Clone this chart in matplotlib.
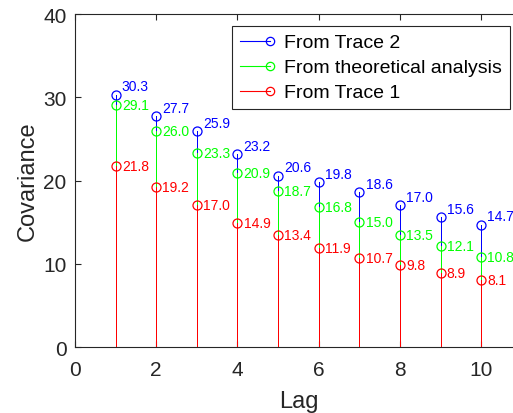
import matplotlib
matplotlib.use("Agg")
import matplotlib.pyplot as plt
from matplotlib.lines import Line2D
from matplotlib.legend_handler import HandlerBase

plt.rcParams['font.family'] = ['Liberation Sans', 'DejaVu Sans']

lags = [1, 2, 3, 4, 5, 6, 7, 8, 9, 10]
trace2 = [30.3, 27.7, 25.9, 23.2, 20.6, 19.8, 18.6, 17.0, 15.6, 14.7]
theory = [29.1, 26.0, 23.3, 20.9, 18.7, 16.8, 15.0, 13.5, 12.1, 10.8]
trace1 = [21.8, 19.2, 17.0, 14.9, 13.4, 11.9, 10.7, 9.8, 8.9, 8.1]
names = ['From Trace 2', 'From theoretical analysis', 'From Trace 1']
colors = ['#0000ff', '#00ff00', '#ff0000']
xticks = [0, 2, 4, 6, 8, 10]
yticks = [0, 10, 20, 30, 40]

fig = plt.figure(figsize=(5.13, 4.14), dpi=100)
ax = fig.add_axes([0.1462, 0.1594, 0.871, 0.8043])

series = [trace2, theory, trace1]
handles = []
for vals, c, name in zip(series, colors, names):
    ax.vlines(lags, 0, vals, colors=c, lw=0.7, zorder=2, antialiased=False)
    ln, = ax.plot(lags, vals, 'o', ms=6.5, mfc='none', mec=c, mew=0.9, zorder=3, label=name)
    handles.append(ln)

for i, (vals, c) in enumerate(zip(series, colors)):
    dy = 6 if i == 0 else 0
    for x, v in zip(lags, vals):
        ax.annotate(f'{v:.1f}', (x, v), xytext=(4.5, dy), textcoords='offset points',
                    ha='left', va='center', color=c, fontsize=10, zorder=4)


class StemHandler(HandlerBase):
    def create_artists(self, legend, orig_handle, xdescent, ydescent, width, height, fontsize, trans):
        c = orig_handle.get_markeredgecolor()
        y = height / 2 - ydescent
        line = Line2D([-xdescent, width - xdescent], [y, y], color=c, lw=0.8)
        mk = Line2D([width - xdescent], [y], marker='o', ms=6, mfc='none', mec=c, mew=0.9, ls='none')
        line.set_transform(trans)
        mk.set_transform(trans)
        return [line, mk]


leg = ax.legend(handles=handles, handler_map={Line2D: StemHandler()}, loc='upper left',
                bbox_to_anchor=(0.351, 0.964), fontsize=14, frameon=True, fancybox=False,
                edgecolor='#262626', framealpha=1, handlelength=1.55, handletextpad=0.75,
                borderpad=0.4, labelspacing=0.38, borderaxespad=0)
leg.get_frame().set_linewidth(0.8)

ax.set_xlim(0, 11)
ax.set_ylim(0, 40)
ax.set_xticks(xticks)
ax.set_yticks(yticks)
ax.tick_params(direction='in', length=4, width=0.8, labelsize=15, colors='#262626',
               top=True, right=True)
ax.tick_params(axis='x', pad=9)
ax.tick_params(axis='y', pad=6)
for s in ax.spines.values():
    s.set_color('#262626')
    s.set_linewidth(0.8)
ax.set_xlabel('Lag', fontsize=17, color='#262626', labelpad=8)
ax.set_ylabel('Covariance', fontsize=17, color='#262626', labelpad=3)

fig.savefig('out.png', dpi=100)
